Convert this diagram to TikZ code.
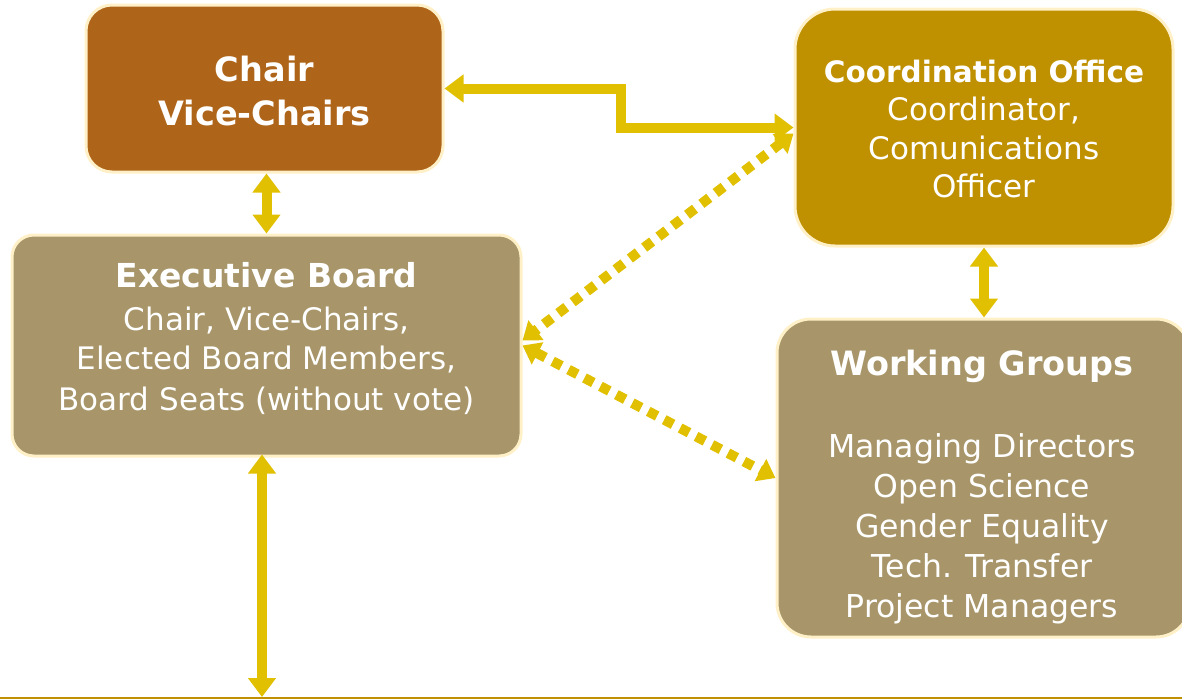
\documentclass[tikz,border=0pt]{standalone}
\usepackage{fontspec}
\setmainfont{DejaVu Sans}
\usetikzlibrary{arrows.meta,calc}
\definecolor{chairc}{RGB}{174,101,26}
\definecolor{coordc}{RGB}{191,145,0}
\definecolor{boardc}{RGB}{168,150,106}
\definecolor{edgec}{RGB}{255,240,200}
\definecolor{arrowc}{RGB}{224,192,0}
\definecolor{basec}{RGB}{192,144,0}
\tikzset{
  box/.style={draw=edgec, line width=3pt, inner sep=0pt},
  label/.style={text=white, align=center, inner sep=0pt},
  link/.style={draw=arrowc, line width=10pt,
    {Triangle[width=27pt,length=19pt]}-{Triangle[width=27pt,length=19pt]}},
  dotlink/.style={draw=arrowc, line width=10pt, dash pattern=on 10pt off 8pt,
    {Triangle[width=24pt,length=17pt]}-{Triangle[width=24pt,length=17pt]}},
}
\begin{document}
\begin{tikzpicture}[x=1pt,y=-1pt]
\useasboundingbox (0,0) rectangle (1182,699);
% boxes
\node[box, fill=chairc, rounded corners=26pt, minimum width=357pt, minimum height=167pt] (chair) at (264.5,88.5) {};
\node[box, fill=coordc, rounded corners=40pt, minimum width=378pt, minimum height=237pt] (coord) at (984,127.5) {};
\node[box, fill=boardc, rounded corners=22pt, minimum width=509pt, minimum height=221pt] (exec) at (266.5,345.5) {};
\node[box, fill=boardc, rounded corners=34pt, minimum width=413pt, minimum height=318pt] (work) at (983.5,478) {};
% texts
\node[label, font=\fontsize{33.5}{44}\selectfont\bfseries] (chairT) at (264.5,91.5) {Chair\\Vice-Chairs};
\node[label, font=\fontsize{31}{38.5}\selectfont] (coordT) at (984,129) {{\bfseries\fontsize{29.5}{38.5}\selectfont Coordination Office}\\Coordinator,\\Comunications\\Officer};
\node[label, font=\fontsize{31}{40}\selectfont] (execT) at (266.5,338.5) {{\bfseries\fontsize{33}{40}\selectfont Executive Board}\\[2pt]Chair, Vice-Chairs,\\Elected Board Members,\\Board Seats (without vote)};
\node[label, font=\fontsize{31.5}{40}\selectfont] (workT) at (982,487) {{\bfseries\fontsize{33.5}{40}\selectfont Working Groups}\\[42pt]Managing Directors\\Open Science\\Gender Equality\\Tech. Transfer\\Project Managers};
% base line
\coordinate (baseL) at (0,697.5);
\coordinate (baseR) at (1182,697.5);
\coordinate (base) at (262,697);
\draw[basec, line width=2pt] (baseL) -- (baseR);
% connectors
\draw[link] (chair.east) -- ++(176,0) |- (coord.west);
\draw[link] ([xshift=2pt]chair.south) -- ([xshift=2pt]chair.south |- exec.north);
\draw[link] (coord.south) -- (coord.south |- work.north);
\draw[link] ([yshift=3pt]exec.south -| base) -- (base);
\draw[dotlink] ([yshift=-6pt]coord.west) -- ([yshift=5pt]exec.east);
\draw[dotlink] (exec.east) -- (work.west);
\end{tikzpicture}
\end{document}
